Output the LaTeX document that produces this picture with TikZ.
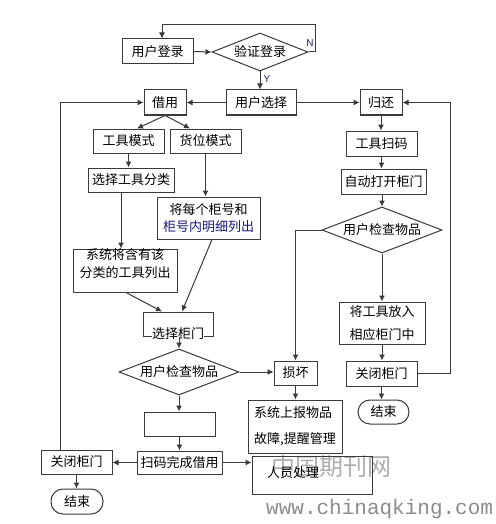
\documentclass[tikz,border=0pt]{standalone}
\usepackage{fontspec}
\newfontfamily\cjk{Noto Sans CJK SC}
\newfontfamily\lat{Liberation Sans}
\newfontfamily\mono{Liberation Mono}
\usetikzlibrary{shapes.geometric,arrows.meta}
\definecolor{lc}{HTML}{3A3A3A}
\definecolor{wm}{HTML}{8C8C8C}
\definecolor{yn}{HTML}{202058}
\begin{document}
\begin{tikzpicture}[x=1pt,y=-1pt,
 box/.style={draw=lc,line width=1pt,fill=white,inner sep=0pt,font=\cjk\fontsize{13}{16}\selectfont,align=center},
 dia/.style={box,diamond,aspect=2.6},
 term/.style={box,rounded corners=12pt},
 arr/.style={draw=lc,line width=1pt,-{Latex[length=6pt,width=6pt]}},
 ln/.style={draw=lc,line width=1pt},
 yn/.style={font=\lat\fontsize{10}{12}\selectfont,text=yn,inner sep=0pt}]
\useasboundingbox (0,0) rectangle (495,524);
\fill[white] (0,0) rectangle (495,524);

% watermark
\node[font=\cjk\fontsize{24}{26}\selectfont,text=wm!70,inner sep=0pt] (wm1) at (331,466) {中国期刊网};
\node[font=\mono\fontsize{21}{24}\selectfont,text=wm,inner sep=0pt,anchor=base west] (wm2) at (266,514) {www.chinaqking.com};

% top
\node[box,minimum width=71,minimum height=25] (login) at (157.5,51.5) {用户登录};
\node[dia,minimum width=96,minimum height=38] (verify) at (260,52) {验证登录};
\node[box,minimum width=70,minimum height=25] (choose) at (261,102.5) {用户选择};
\node[box,minimum width=42,minimum height=25] (borrow) at (165,102.5) {借用};
\node[box,minimum width=42,minimum height=25] (ret) at (381,102.5) {归还};

% left branch
\node[box,minimum width=71,minimum height=24] (toolmode) at (128.5,141) {工具模式};
\node[box,minimum width=71,minimum height=24] (slotmode) at (205.5,141) {货位模式};
\node[box,minimum width=86,minimum height=24] (selcat) at (131,180) {选择工具分类};
\node[box,minimum width=103,minimum height=42,font=\cjk\fontsize{13}{17}\selectfont] (list2) at (208.5,218) {将每个柜号和\\\textcolor{yn!80!blue}{柜号内明细列出}};
\node[box,minimum width=104,minimum height=43,font=\cjk\fontsize{13}{18}\selectfont] (list1) at (125,270.5) {};
\node[inner sep=0pt,font=\cjk\fontsize{13}{18}\selectfont,align=center] (list1t) at (125,264) {系统将含有该\\分类的工具列出};
\node[box,minimum width=70,minimum height=24] (selgate) at (178,324) {};
\node[inner sep=0pt,fill=white,font=\cjk\fontsize{13}{16}\selectfont] (selgatet) at (178,334) {选择柜门};
\node[dia,minimum width=120,minimum height=46] (diaL) at (179,372) {用户检查物品};
\node[box,minimum width=71,minimum height=24] (empty) at (179.5,424) {};
\node[box,minimum width=85,minimum height=23] (scan) at (179.5,462.5) {扫码完成借用};
\node[box,minimum width=71,minimum height=24] (closeL) at (76.5,462) {关闭柜门};
\node[term,minimum width=52,minimum height=25] (endL) at (77,501.5) {结束};

% middle
\node[box,minimum width=43,minimum height=24] (damage) at (295.5,373) {损坏};
\node[box,minimum width=94,minimum height=53,align=left,font=\cjk\fontsize{13}{26}\selectfont] (report) at (295,426.5) {系统上报物品\\故障,提醒管理};
\node[box,fill=none,minimum width=120,minimum height=38] (handle) at (312,475) {};
\node[inner sep=0pt,font=\cjk\fontsize{13}{16}\selectfont,anchor=west] (handlet) at (267,473) {人员处理};

% right branch
\node[box,minimum width=71,minimum height=25] (scanR) at (381.5,143.5) {工具扫码};
\node[box,minimum width=85,minimum height=25] (autoopen) at (383.5,181.5) {自动打开柜门};
\node[dia,minimum width=120,minimum height=46] (diaR) at (382,230) {用户检查物品};
\node[box,minimum width=86,minimum height=42,align=left,font=\cjk\fontsize{13}{23}\selectfont] (put) at (382,323) {将工具放入\\相应柜门中};
\node[box,minimum width=71,minimum height=25] (closeR) at (381.5,373.5) {关闭柜门};
\node[term,minimum width=51,minimum height=24] (endR) at (383.5,412) {结束};

\coordinate (lx) at (60,0);
\coordinate (rx) at (450,0);
\coordinate (nx) at (315,25);

% connectors
\draw[arr] (login.east) -- (verify.west);
\draw[arr] (verify.east) -| (nx) -| ([xshift=4.5]login.north);
\node[yn] (nlab) at (310,43) {N};
\draw[arr] (verify.south) -- (verify.south |- choose.north);
\node[yn] (ylab) at (267,79) {Y};
\draw[arr] (choose.west) -- (borrow.east);
\draw[arr] (choose.east) -- (ret.west);
\draw[arr] (closeL.north -| lx) |- (borrow.west);
\draw[arr] (borrow.south) -- ([xshift=8.5]toolmode.north);
\draw[arr] (borrow.south) -- ([xshift=-15.5]slotmode.north);
\draw[arr] (toolmode.south) -- (toolmode.south |- selcat.north);
\draw[arr] ([xshift=-10]selcat.south) -- ([xshift=-10]selcat.south |- list1.north);
\draw[arr] (slotmode.south) -- (slotmode.south |- list2.north);
\draw[arr] ([xshift=1]list1.south) -- ([xshift=-16]selgate.north);
\draw[arr] ([xshift=3.5]list2.south) -- ([xshift=4]selgate.north);
\draw[arr] (selgate.south -| diaL.north) -- (diaL.north);
\draw[arr] (diaL.east) -- (diaL.east -| damage.west);
\draw[arr] (diaL.south) -- (diaL.south |- empty.north);
\draw[arr] (empty.south) -- (empty.south |- scan.north);
\draw[arr] (scan.west) -- (scan.west -| closeL.east);
\draw[arr] (scan.east) -- (scan.east -| handle.west);
\draw[arr] (closeL.south) -- (closeL.south |- endL.north);

\draw[arr] (ret.south) -- (ret.south |- scanR.north);
\draw[arr] (scanR.south) -- (scanR.south |- autoopen.north);
\draw[arr] (autoopen.south -| diaR.north) -- (diaR.north);
\draw[arr] (diaR.south) -- (diaR.south |- put.north);
\draw[arr] (put.south) -- (put.south |- closeR.north);
\draw[arr] (closeR.south) -- (closeR.south |- endR.north);
\draw[arr] (diaR.west) -| (damage.north);
\draw[arr] (damage.south) -- (damage.south |- report.north);
\draw[arr] (closeR.east) -- (closeR.east -| rx) |- (ret.east);
\end{tikzpicture}
\end{document}
